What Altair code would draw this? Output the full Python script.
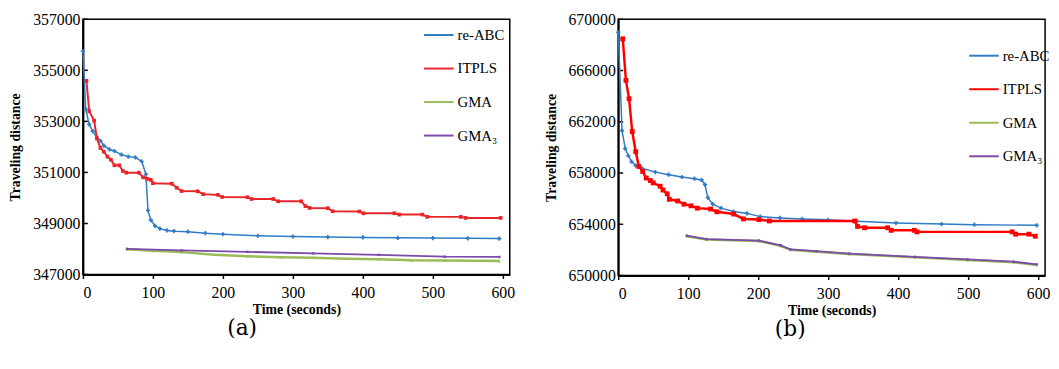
import altair as alt
import pandas as pd

SERIES = ["re-ABC", "ITPLS", "GMA", "GMA₃"]
X_TICKS = [0, 100, 200, 300, 400, 500, 600]

# ---------------- panel (a) ----------------
A_TICKS = [347000, 349000, 351000, 353000, 355000, 357000]

a_reabc_t = [0, 4, 9, 14, 20, 25, 30, 38, 45, 55, 65, 75, 84, 90, 93, 97, 103, 110, 120, 130, 150, 175, 200, 250, 300, 350, 400, 450, 500, 550, 595]
a_reabc_v = [355750, 353480, 352880, 352620, 352370, 352240, 352050, 351900, 351840, 351700, 351620, 351590, 351430, 350930, 349510, 349130, 348910, 348800, 348730, 348700, 348680, 348620, 348580, 348520, 348490, 348470, 348455, 348440, 348430, 348420, 348410]

a_itpls_t = [5, 9, 16, 20, 25, 30, 35, 40, 45, 52, 57, 62, 80, 86, 92, 97, 100, 127, 134, 141, 164, 172, 193, 199, 235, 241, 272, 279, 312, 318, 324, 350, 357, 395, 401, 445, 452, 485, 492, 540, 547, 597]
a_itpls_v = [354590, 353400, 353030, 352330, 351960, 351810, 351620, 351500, 351280, 351280, 351060, 350990, 350990, 350810, 350750, 350710, 350580, 350560, 350400, 350270, 350260, 350150, 350120, 350040, 350030, 349960, 349960, 349870, 349870, 349680, 349610, 349600, 349480, 349470, 349400, 349400, 349350, 349350, 349260, 349260, 349220, 349220]

a_gma_t = [63, 100, 141, 188, 235, 282, 329, 376, 423, 470, 517, 595]
a_gma_v = [347990, 347930, 347880, 347780, 347720, 347680, 347660, 347620, 347600, 347560, 347550, 347530]

a_gma3_t = [63, 141, 235, 329, 423, 517, 595]
a_gma3_v = [348010, 347950, 347890, 347830, 347770, 347700, 347690]

# ---------------- panel (b) ----------------
B_TICKS = [650000, 654000, 658000, 662000, 666000, 670000]

b_reabc_t = [0, 5.5, 10, 14.5, 19, 25, 34, 53, 72, 91, 109, 119, 124, 128, 135, 147, 165, 184, 203, 231, 263, 300, 341, 397, 462, 509, 598]
b_reabc_v = [668980, 661310, 659910, 659350, 658890, 658580, 658370, 658070, 657870, 657690, 657560, 657460, 657100, 656080, 655570, 655260, 655000, 654850, 654600, 654500, 654420, 654350, 654230, 654100, 654020, 653970, 653920]

b_itpls_t = [6.5, 11, 15.5, 20, 25, 29.5, 35, 40, 46, 50, 60, 64, 70, 73, 85, 94, 104, 113, 132, 141, 165, 179, 201, 216, 338, 342, 352, 385, 390, 423, 427, 563, 568, 587, 596]
b_itpls_v = [668470, 665230, 663800, 661240, 659660, 658510, 658120, 657610, 657410, 657230, 656970, 656670, 656380, 655950, 655820, 655570, 655440, 655260, 655190, 654980, 654800, 654420, 654370, 654260, 654260, 653830, 653730, 653730, 653530, 653530, 653410, 653410, 653230, 653230, 653070]

b_gma_t = [98, 126, 201, 232, 246, 283, 330, 424, 499, 565, 598]
b_gma_v = [653070, 652810, 652690, 652320, 652010, 651860, 651680, 651420, 651220, 651040, 650830]

b_gma3_t = [98, 126, 201, 232, 246, 283, 330, 424, 499, 565, 598]
b_gma3_v = [653110, 652850, 652730, 652360, 652050, 651900, 651720, 651460, 651260, 651080, 650870]

SERIF = "Liberation Serif, Times New Roman, serif"


def panel(data, ydom, yticks, colors, widths, shapes, sizes, legend_xy, caption, cap_dx, height):
    cscale = alt.Scale(domain=SERIES, range=colors)
    xenc = alt.X("t:Q", scale=alt.Scale(domain=[0, 610], nice=False),
                 axis=alt.Axis(values=X_TICKS, title="Time (seconds)", grid=False,
                               domainColor="black", domainWidth=2, tickColor="black",
                               tickSize=4, tickWidth=1.5, labelPadding=6,
                               labelFont=SERIF, labelFontSize=16, labelColor="black",
                               titleFont=SERIF, titleFontSize=14, titleFontWeight="bold",
                               titleColor="black", titlePadding=2))
    yenc = alt.Y("v:Q", scale=alt.Scale(domain=ydom, nice=False, zero=False),
                 axis=alt.Axis(values=yticks, title="Traveling distance", grid=False,
                               format="d", domainColor="black", domainWidth=2, ticks=False,
                               labelPadding=3, labelFont=SERIF, labelFontSize=16,
                               labelColor="black", titleFont=SERIF, titleFontSize=14,
                               titleFontWeight="bold", titleColor="black", titlePadding=10))
    leg = alt.Legend(orient="none", legendX=legend_xy[0], legendY=legend_xy[1], title=None,
                     symbolType="stroke", symbolSize=900, symbolStrokeWidth=2,
                     labelFont=SERIF, labelFontSize=15, labelColor="black",
                     rowPadding=10, labelOffset=3, padding=0)
    layers = []
    tick_df = pd.DataFrame({"v": yticks})
    layers.append(alt.Chart(tick_df).mark_rule(color="black", strokeWidth=1.5).encode(
        y=yenc, x=alt.value(0), x2=alt.value(5)))
    for i, name in enumerate(SERIES):
        t, v = data[name]
        df = pd.DataFrame({"t": t, "v": v, "s": name})
        base = alt.Chart(df)
        layers.append(base.mark_line(strokeWidth=widths[i]).encode(
            x=xenc, y=yenc, color=alt.Color("s:N", scale=cscale, legend=leg)))
        layers.append(base.mark_point(filled=True, shape=shapes[i], size=sizes[i],
                                      opacity=1, color=colors[i]).encode(x=xenc, y=yenc))
    return alt.layer(*layers).properties(
        width=433, height=height,
        title=alt.TitleParams(caption, orient="bottom", anchor="middle", frame="group",
                              dx=cap_dx, offset=2, font="DejaVu Serif", fontSize=22,
                              fontWeight="normal", color="black"))


a = panel({"re-ABC": (a_reabc_t, a_reabc_v), "ITPLS": (a_itpls_t, a_itpls_v),
           "GMA": (a_gma_t, a_gma_v), "GMA₃": (a_gma3_t, a_gma3_v)},
          [347000, 357000], A_TICKS,
          ["#2F7CC4", "#E8262A", "#9BBB59", "#7A4BA8"],
          [1.5, 2, 2.5, 1.8], ["cross", "square", "triangle-up", "square"],
          [18, 14, 10, 6], (345, 0), "(a)", -55, 259)

b = panel({"re-ABC": (b_reabc_t, b_reabc_v), "ITPLS": (b_itpls_t, b_itpls_v),
           "GMA": (b_gma_t, b_gma_v), "GMA₃": (b_gma3_t, b_gma3_v)},
          [650000, 670000], B_TICKS,
          ["#2F7CC4", "#FF0000", "#9BBB59", "#7A4BA8"],
          [1.5, 2.5, 2.5, 1.8], ["cross", "square", "triangle-up", "square"],
          [18, 24, 10, 6], (355, 21), "(b)", -42, 260)

chart = alt.hconcat(a, b, spacing=28).resolve_scale(
    color="independent", x="independent", y="independent"
).resolve_legend(color="independent").properties(
    padding={"left": 0, "top": 0, "right": 0, "bottom": 0}
).configure_view(stroke="black", strokeWidth=1.5)

chart.save("out.html", embed_options={"renderer": "svg", "actions": False})
